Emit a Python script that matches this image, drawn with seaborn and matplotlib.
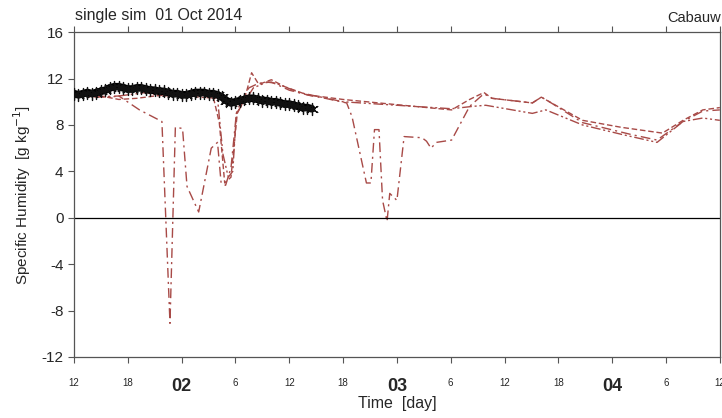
import matplotlib
matplotlib.use("Agg")
import matplotlib.pyplot as plt
import seaborn as sns
import pandas as pd
import numpy as np

# ---- data (hours since 01 Oct 2014 00:00) ----
obs_hours = [12 + 0.5 * i for i in range(54)]
obs_q = [10.7, 10.6, 10.7, 10.8, 10.7, 10.8, 10.9, 11.0, 11.2, 11.3,
         11.3, 11.2, 11.1, 11.1, 11.2, 11.2, 11.1, 11.0, 11.0, 10.9,
         10.9, 10.8, 10.7, 10.7, 10.6, 10.6, 10.7, 10.8, 10.8, 10.8,
         10.7, 10.7, 10.6, 10.4, 10.1, 9.9, 10.0, 10.1, 10.2, 10.3,
         10.3, 10.2, 10.1, 10.1, 10.0, 10.0, 9.9, 9.8, 9.8, 9.7,
         9.6, 9.5, 9.5, 9.4]

simA_hours = [12, 14, 17, 19.3, 21.8, 22.7, 23.3, 24.1, 24.6, 25.9, 27.3, 28.0,
              28.4, 28.9, 29.5, 30.1, 30.6, 31.5, 32.6, 34.0, 36.0, 38.5, 40,
              42.4, 43.0, 44.6, 45.1, 45.5, 46.0, 46.4, 46.9, 47.2, 48.0, 48.8,
              50.8, 51.3, 51.8, 52.4, 54.1, 56.1, 57.7, 58.6, 63.1, 64.1, 65.0,
              68.7, 74.0, 77.0, 79.9, 82.1, 84]
simA_q = [10.5, 10.4, 10.5, 9.3, 8.3, -9.1, 7.8, 7.7, 2.7, 0.5, 6.0, 6.5,
          3.0, 2.8, 4.3, 9.0, 10.0, 11.2, 11.6, 11.7, 11.0, 10.5, 10.3,
          9.9, 8.7, 3.0, 3.0, 7.6, 7.6, 1.5, -0.3, 2.1, 1.5, 7.0,
          6.9, 6.6, 6.0, 6.5, 6.7, 9.6, 10.7, 10.3, 9.9, 10.4, 10.0,
          8.2, 7.2, 6.7, 8.3, 9.2, 9.3]

simB_hours = [12, 15, 17, 19, 21, 24, 26, 27.5, 28.2, 28.8, 29.5, 30.2, 31.0,
              31.8, 32.6, 34.0, 35.5, 38, 42, 46, 50, 54.1, 56.1, 57.7, 58.6,
              63.1, 64.1, 65.0, 68.7, 73, 77.6, 79.9, 82.1, 84]
simB_q = [10.6, 10.5, 10.2, 10.3, 10.5, 10.7, 10.6, 10.5, 8.2, 3.0, 3.5, 9.0, 10.2,
          12.5, 11.5, 11.9, 11.3, 10.6, 10.2, 9.9, 9.6, 9.3, 10.2, 10.8, 10.3,
          9.9, 10.4, 10.0, 8.4, 7.8, 7.3, 8.4, 9.3, 9.5]

simC_hours = [12, 16, 18, 20, 22, 24, 26, 28.0, 28.6, 29.2, 29.7, 30.1, 31.0,
              32.0, 33.5, 34.5, 37.1, 42, 46, 50, 54.1, 56.4, 57.9, 63.1, 64.6,
              68.7, 73, 77.0, 79.9, 82.1, 84]
simC_q = [10.5, 10.4, 10.6, 10.8, 10.5, 10.6, 10.4, 10.3, 5.5, 3.5, 4.0, 9.0, 10.0,
          11.2, 11.7, 11.6, 10.8, 10.0, 9.8, 9.6, 9.4, 9.6, 9.7, 9.0, 9.3,
          8.0, 7.2, 6.5, 8.3, 8.6, 8.4]

xtick_pos = [12, 18, 24, 30, 36, 42, 48, 54, 60, 66, 72, 78, 84]
xtick_lab = ["12", "18", "02", "6", "12", "18", "03", "6", "12", "18", "04", "6", "12"]
ytick_pos = [16, 12, 8, 4, 0, -4, -8, -12]

# ---- plot ----
sns.set_style("ticks")
plt.rcParams['font.family'] = ['Liberation Sans', 'DejaVu Sans']

fig = plt.figure(figsize=(7.22, 4.18), dpi=100)
ax = fig.add_axes([0.1025, 0.146, 0.8945, 0.777])

red = "#a84a47"
sns.lineplot(x=simA_hours, y=simA_q, ax=ax, color=red, lw=1.0,
             linestyle=(0, (7, 3, 1.5, 3)), sort=False)
sns.lineplot(x=simB_hours, y=simB_q, ax=ax, color=red, lw=1.0,
             linestyle=(0, (4, 2)), sort=False)
sns.lineplot(x=simC_hours, y=simC_q, ax=ax, color=red, lw=1.0,
             linestyle=(0, (7, 2, 1.5, 2, 1.5, 2)), sort=False)
sns.lineplot(x=obs_hours, y=obs_q, ax=ax, color="black", lw=5.5,
             solid_capstyle="round", zorder=5)
sns.scatterplot(x=obs_hours, y=obs_q, ax=ax, marker=(6, 2, 0), s=75,
                color="#111111", linewidth=0.9, zorder=6)

ax.axhline(0, color="black", lw=0.9)

ax.set_xlim(12, 84)
ax.set_ylim(-12, 16)
ax.set_yticks(ytick_pos)
ax.set_yticklabels([str(v) for v in ytick_pos], fontsize=11)
ax.set_xticks(xtick_pos)
ax.set_xticklabels(xtick_lab)
for lab in ax.get_xticklabels():
    if lab.get_text() in ("02", "03", "04"):
        lab.set_fontsize(13)
        lab.set_fontweight("bold")
    else:
        lab.set_fontsize(7)
ax.tick_params(axis="x", which="both", top=True, direction="out", length=4,
               pad=11, color="#555555")
ax.tick_params(axis="y", direction="out", length=4, color="#555555")
for s in ax.spines.values():
    s.set_visible(True)
    s.set_color("#555555")
    s.set_linewidth(0.9)

ax.set_xlabel("Time  [day]", fontsize=11.5, labelpad=1)
ax.set_ylabel("Specific Humidity  [g kg$^{-1}$]", fontsize=11, labelpad=6)

fig.text(0.104, 0.963, "single sim  01 Oct 2014", fontsize=11.5, ha="left", va="center")
fig.text(0.998, 0.956, "Cabauw", fontsize=10.5, ha="right", va="center")

fig.savefig("out.png", dpi=100)
